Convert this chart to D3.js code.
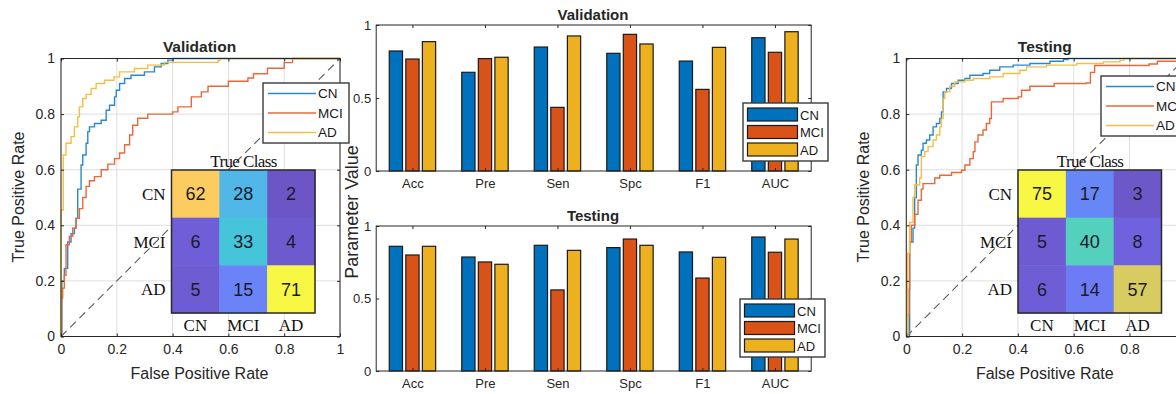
<!DOCTYPE html>
<html lang="en">
<head>
<meta charset="utf-8">
<title>ROC, metrics and confusion matrices</title>
<script src="https://d3js.org/d3.v7.min.js"></script>
<style>
body { margin: 0; background: #fff; }
text { font-family: "Liberation Sans", Arial, sans-serif; fill: #262626; }
.serif { font-family: "Liberation Serif", "Times New Roman", serif; fill: #111; }
</style>
</head>
<body>
<div id="chart"></div>
<script>

// ---- data ----
var classes = ["CN", "MCI", "AD"];
var metrics = ["Acc", "Pre", "Sen", "Spc", "F1", "AUC"];
var rocTicks = [0, 0.2, 0.4, 0.6, 0.8, 1];
var barTicks = [0, 0.5, 1];

// validation metrics
var valCN  = [0.822, 0.676, 0.849, 0.806, 0.753, 0.913];
var valMCI = [0.767, 0.770, 0.436, 0.936, 0.559, 0.813];
var valAD  = [0.886, 0.779, 0.925, 0.870, 0.847, 0.954];
// testing metrics
var testCN  = [0.860, 0.786, 0.867, 0.851, 0.821, 0.924];
var testMCI = [0.800, 0.752, 0.559, 0.910, 0.641, 0.819];
var testAD  = [0.860, 0.736, 0.832, 0.867, 0.784, 0.910];

// confusion matrices (rows CN, MCI, AD)
var cmVal  = [[62, 28, 2], [6, 33, 4], [5, 15, 71]];
var cmTest = [[75, 17, 3], [5, 40, 8], [6, 14, 57]];

// ROC curves, [fpr, tpr]
var rocValCN = [[0,0],[0.003,0.2],[0.012,0.245],[0.024,0.34],[0.036,0.37],[0.048,0.39],[0.054,0.425],[0.06,0.53],[0.072,0.617],[0.078,0.653],[0.09,0.695],[0.096,0.737],[0.102,0.754],[0.12,0.766],[0.144,0.778],[0.162,0.814],[0.174,0.832],[0.192,0.862],[0.198,0.886],[0.21,0.91],[0.228,0.928],[0.251,0.94],[0.299,0.952],[0.335,0.97],[0.359,0.982],[0.383,0.994],[0.4,1],[1,1]];
var rocValMCI = [[0,0],[0.002,0.138],[0.006,0.174],[0.012,0.22],[0.018,0.33],[0.03,0.36],[0.042,0.39],[0.054,0.425],[0.066,0.46],[0.078,0.5],[0.09,0.54],[0.102,0.56],[0.12,0.575],[0.144,0.6],[0.168,0.62],[0.192,0.64],[0.21,0.66],[0.228,0.69],[0.246,0.725],[0.257,0.76],[0.275,0.785],[0.311,0.8],[0.4,0.808],[0.419,0.826],[0.467,0.862],[0.503,0.88],[0.527,0.9],[0.6,0.918],[0.67,0.93],[0.69,0.945],[0.74,0.965],[0.8,0.985],[0.83,1],[1,1]];
var rocValAD = [[0,0],[0,0.455],[0.008,0.653],[0.018,0.695],[0.036,0.719],[0.048,0.754],[0.06,0.79],[0.066,0.826],[0.078,0.856],[0.09,0.871],[0.108,0.892],[0.126,0.91],[0.156,0.922],[0.19,0.934],[0.21,0.952],[0.263,0.964],[0.311,0.976],[0.371,0.986],[0.563,0.993],[0.57,1],[1,1]];

var rocTestCN = [[0,0],[0.012,0.34],[0.024,0.39],[0.03,0.5],[0.036,0.617],[0.042,0.653],[0.054,0.67],[0.06,0.695],[0.072,0.707],[0.084,0.725],[0.096,0.754],[0.108,0.766],[0.12,0.784],[0.126,0.808],[0.132,0.88],[0.144,0.892],[0.162,0.91],[0.186,0.922],[0.21,0.928],[0.228,0.94],[0.275,0.946],[0.299,0.958],[0.335,0.97],[0.383,0.976],[0.443,0.982],[0.515,0.99],[0.563,0.996],[0.58,1],[1,1]];
var rocTestMCI = [[0,0],[0.006,0.08],[0.01,0.17],[0.012,0.34],[0.018,0.4],[0.03,0.44],[0.042,0.49],[0.054,0.53],[0.06,0.55],[0.102,0.57],[0.12,0.58],[0.162,0.59],[0.198,0.598],[0.21,0.617],[0.228,0.64],[0.24,0.665],[0.246,0.7],[0.257,0.725],[0.275,0.743],[0.287,0.766],[0.299,0.784],[0.305,0.844],[0.347,0.856],[0.401,0.862],[0.413,0.886],[0.443,0.9],[0.53,0.91],[0.645,0.912],[0.66,0.95],[0.675,0.975],[0.87,0.98],[0.9,0.99],[0.97,1],[1,1]];
var rocTestAD = [[0,0],[0.005,0.3],[0.012,0.41],[0.024,0.5],[0.03,0.545],[0.048,0.57],[0.054,0.647],[0.066,0.665],[0.078,0.683],[0.096,0.707],[0.108,0.725],[0.12,0.754],[0.126,0.784],[0.132,0.856],[0.138,0.88],[0.156,0.9],[0.174,0.916],[0.21,0.922],[0.24,0.928],[0.299,0.934],[0.347,0.946],[0.407,0.958],[0.431,0.97],[0.503,0.976],[0.611,0.982],[0.706,0.988],[0.766,0.994],[0.78,1],[1,1]];

// ---- colours ----
var barColor = d3.scaleOrdinal().domain(classes).range(["#0072BD", "#D95319", "#EDB120"]);
var lineColor = d3.scaleOrdinal().domain(classes).range(["#2a88cf", "#e8683a", "#f1bf45"]);
// parula-like map for the confusion matrices, by share of the matrix maximum
var cellColor = d3.scaleLinear()
  .domain([0, 0.1, 0.2, 0.4, 0.47, 0.53, 0.76, 0.87, 1])
  .range(["#6a52bc", "#7060dc", "#6c80f8", "#50b8e8", "#44c6d8", "#52d0c0", "#d8cc60", "#fccb62", "#f8f844"]);

var svg = d3.select("#chart").append("svg")
  .attr("width", 1176)
  .attr("height", 394);

// ---- ROC panel ----
function rocPanel(o) {
  var x = d3.scaleLinear().domain([0, 1]).range([o.left, o.left + 279]);
  var y = d3.scaleLinear().domain([0, 1]).range([336.5, 58.5]);
  var g = svg.append("g");

  // grid
  g.selectAll(".gx").data(rocTicks).enter().append("line")
    .attr("x1", function(d){ return x(d); }).attr("x2", function(d){ return x(d); })
    .attr("y1", y(0)).attr("y2", y(1))
    .style("stroke", "#dedede");
  g.selectAll(".gy").data(rocTicks).enter().append("line")
    .attr("y1", function(d){ return y(d); }).attr("y2", function(d){ return y(d); })
    .attr("x1", x(0)).attr("x2", x(1))
    .style("stroke", "#dedede");

  // chance line
  g.append("line")
    .attr("x1", x(0)).attr("y1", y(0)).attr("x2", x(1)).attr("y2", y(1))
    .style("stroke", "#5a5a5a").style("stroke-dasharray", "8,5").style("stroke-width", 1.1);

  // curves
  var line = d3.line().x(function(d){ return x(d[0]); }).y(function(d){ return y(d[1]); })
    .curve(d3.curveStepAfter);
  o.curves.forEach(function(c, i) {
    g.append("path").attr("d", line(c))
      .style("fill", "none").style("stroke", lineColor(classes[i])).style("stroke-width", 1.4);
  });

  // box + axes
  g.append("rect").attr("x", x(0)).attr("y", y(1)).attr("width", x(1) - x(0)).attr("height", y(0) - y(1))
    .style("fill", "none").style("stroke", "#262626");
  g.append("g").attr("transform", "translate(0," + y(0) + ")")
    .call(d3.axisBottom(x).tickValues(rocTicks).tickSize(-3).tickPadding(8).tickFormat(d3.format("~g")));
  g.append("g").attr("transform", "translate(" + x(0) + ",0)")
    .call(d3.axisLeft(y).tickValues(rocTicks).tickSize(-3).tickPadding(6).tickFormat(d3.format("~g")));
  g.append("g").attr("transform", "translate(0," + y(1) + ")")
    .call(d3.axisTop(x).tickValues(rocTicks).tickSize(-3).tickFormat(""));
  g.append("g").attr("transform", "translate(" + x(1) + ",0)")
    .call(d3.axisRight(y).tickValues(rocTicks).tickSize(-3).tickFormat(""));
  g.selectAll(".domain").remove();
  g.selectAll(".tick line").style("stroke", "#262626");
  g.selectAll(".tick text").style("font-size", "14px").style("fill", "#262626");

  g.append("text").attr("x", (x(0) + x(1)) / 2 - 1).attr("y", 52)
    .attr("text-anchor", "middle").style("font-size", "15.5px").style("font-weight", "bold").text(o.title);
  g.append("text").attr("x", (x(0) + x(1)) / 2 - 1).attr("y", 379)
    .attr("text-anchor", "middle").style("font-size", "16px").text("False Positive Rate");
  g.append("text").attr("transform", "translate(" + (o.left - 37) + ",197) rotate(-90)")
    .attr("text-anchor", "middle").style("font-size", "16px").text("True Positive Rate");

  // legend
  var lg = g.append("g").attr("transform", "translate(" + o.legX + "," + o.legY + ")");
  lg.append("rect").attr("width", 86).attr("height", 60)
    .style("fill", "#fff").style("stroke", "#3a3a3a").style("stroke-width", 1.4);
  classes.forEach(function(c, i) {
    lg.append("line").attr("x1", 5).attr("x2", 53).attr("y1", 10.5 + i * 19.5).attr("y2", 10.5 + i * 19.5)
      .style("stroke", lineColor(c)).style("stroke-width", 1.4);
    lg.append("text").attr("x", 55).attr("y", 15 + i * 19.5).style("font-size", "13.5px").style("fill", "#1a1a1a").text(c);
  });

  // confusion matrix
  var cx = d3.scaleBand().domain(classes).range([o.cmX, o.cmX + 143.5]);
  var cy = d3.scaleBand().domain(classes).range([170, 313]);
  var maxV = d3.max(o.cm, function(r){ return d3.max(r); });
  var cells = [];
  o.cm.forEach(function(row, i){ row.forEach(function(v, j){ cells.push({r: classes[i], c: classes[j], v: v}); }); });
  var mg = g.append("g");
  mg.selectAll("rect.cell").data(cells).enter().append("rect")
    .attr("x", function(d){ return cx(d.c); }).attr("y", function(d){ return cy(d.r); })
    .attr("width", cx.bandwidth() + 0.5).attr("height", cy.bandwidth() + 0.5)
    .style("fill", function(d){ return cellColor(d.v / maxV); });
  mg.selectAll("text.val").data(cells).enter().append("text")
    .attr("x", function(d){ return cx(d.c) + cx.bandwidth() / 2; })
    .attr("y", function(d){ return cy(d.r) + cy.bandwidth() / 2 + 6.5; })
    .attr("text-anchor", "middle").style("font-size", "18px").style("fill", "#1a1a2a")
    .text(function(d){ return d.v; });
  mg.append("rect").attr("x", o.cmX).attr("y", 170).attr("width", 143.5).attr("height", 143)
    .style("fill", "none").style("stroke", "#2a2a2a").style("stroke-width", 1.5);
  mg.selectAll("text.rl").data(classes).enter().append("text").attr("class", "serif")
    .attr("x", o.cmX - 6).attr("y", function(d){ return cy(d) + cy.bandwidth() / 2 + 6; })
    .attr("text-anchor", "end").style("font-size", "17px").text(function(d){ return d; });
  mg.selectAll("text.cl").data(classes).enter().append("text").attr("class", "serif")
    .attr("x", function(d){ return cx(d) + cx.bandwidth() / 2; }).attr("y", 331)
    .attr("text-anchor", "middle").style("font-size", "17px").text(function(d){ return d; });
  mg.append("text").attr("class", "serif").attr("x", o.cmX + 72).attr("y", 167)
    .attr("text-anchor", "middle").style("font-size", "17px").style("letter-spacing", "-0.6px").text("True Class");
}

rocPanel({left: 61, title: "Validation", curves: [rocValCN, rocValMCI, rocValAD],
  legX: 263, legY: 83, cm: cmVal, cmX: 171.5});
rocPanel({left: 906.3, title: "Testing", curves: [rocTestCN, rocTestMCI, rocTestAD],
  legX: 1101, legY: 76, cm: cmTest, cmX: 1018});

// ---- bar panels ----
function barPanel(o) {
  var x = d3.scaleBand().domain(metrics).range([376.2, 811.2]);
  var xi = d3.scaleBand().domain(classes).range([-23.2, 23.2]).paddingInner(0.2);
  var y = d3.scaleLinear().domain([0, 1]).range([o.bottom, o.top]);
  var g = svg.append("g");

  var rows = [];
  metrics.forEach(function(m, i){
    classes.forEach(function(c, k){ rows.push({m: m, c: c, v: o.series[k][i]}); });
  });
  g.selectAll("rect.bar").data(rows).enter().append("rect")
    .attr("x", function(d){ return x(d.m) + x.bandwidth() / 2 + xi(d.c); })
    .attr("y", function(d){ return y(d.v); })
    .attr("width", xi.bandwidth())
    .attr("height", function(d){ return y(0) - y(d.v); })
    .style("fill", function(d){ return barColor(d.c); })
    .style("stroke", "#1a1a1a").style("stroke-width", 1.2);

  g.append("rect").attr("x", 376.2).attr("y", o.top).attr("width", 435).attr("height", o.bottom - o.top)
    .style("fill", "none").style("stroke", "#262626");
  var mid = function(d){ return x(d) + x.bandwidth() / 2; };
  var xa = d3.scaleOrdinal().domain(metrics).range(metrics.map(mid));
  g.append("g").attr("transform", "translate(0," + o.bottom + ")")
    .call(d3.axisBottom(xa).tickSize(-3).tickPadding(8));
  g.append("g").attr("transform", "translate(0," + o.top + ")")
    .call(d3.axisTop(xa).tickSize(-3).tickFormat(""));
  g.append("g").attr("transform", "translate(376.2,0)")
    .call(d3.axisLeft(y).tickValues(barTicks).tickSize(-3).tickPadding(5).tickFormat(d3.format("~g")));
  g.append("g").attr("transform", "translate(811.2,0)")
    .call(d3.axisRight(y).tickValues(barTicks).tickSize(-3).tickFormat(""));
  g.selectAll(".domain").remove();
  g.selectAll(".tick line").style("stroke", "#262626");
  g.selectAll(".tick text").style("font-size", "13px").style("fill", "#262626");

  g.append("text").attr("x", 593).attr("y", o.top - 5).attr("text-anchor", "middle")
    .style("font-size", "15px").style("font-weight", "bold").text(o.title);

  var lg = g.append("g").attr("transform", "translate(" + o.legX + "," + o.legY + ")");
  lg.append("rect").attr("width", 85).attr("height", 58)
    .style("fill", "#fff").style("stroke", "#3a3a3a").style("stroke-width", 1.4);
  classes.forEach(function(c, i){
    lg.append("rect").attr("x", 4.5).attr("y", 5 + i * 17.5).attr("width", 50).attr("height", 13)
      .style("fill", barColor(c)).style("stroke", "#1a1a1a").style("stroke-width", 1.2);
    lg.append("text").attr("x", 57).attr("y", 16.5 + i * 17.5).style("font-size", "13px").style("fill", "#1a1a1a").text(c);
  });
}

barPanel({top: 25, bottom: 171, title: "Validation", series: [valCN, valMCI, valAD], legX: 743, legY: 103});
barPanel({top: 226, bottom: 371, title: "Testing", series: [testCN, testMCI, testAD], legX: 740, legY: 299});

svg.append("text").attr("transform", "translate(358,212) rotate(-90)")
  .attr("text-anchor", "middle").style("font-size", "18px").text("Parameter Value");

</script>
</body>
</html>
